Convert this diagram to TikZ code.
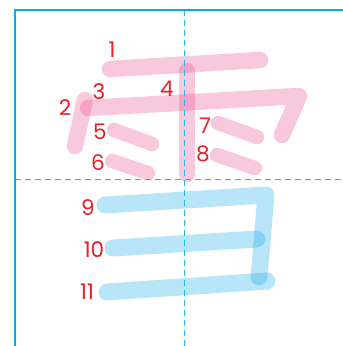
\documentclass[tikz,border=0pt]{standalone}
\usepackage{fontspec}
\setmainfont{Poppins}
\definecolor{frameblue}{RGB}{0,174,239}
\definecolor{dashblue}{RGB}{40,180,240}
\definecolor{pinkstroke}{RGB}{233,76,140}
\definecolor{bluestroke}{RGB}{0,160,230}
\definecolor{numred}{RGB}{232,30,40}
\begin{document}
\begin{tikzpicture}[x=1pt,y=-1pt,
  pinkst/.style={draw=pinkstroke,draw opacity=0.3,line width=16.5pt,line cap=round,line join=round},
  dotst/.style={draw=pinkstroke,draw opacity=0.3,line width=14.5pt,line cap=round},
  bluest/.style={draw=bluestroke,draw opacity=0.28,line width=17pt,line cap=round,line join=round},
  num/.style={text=numred,font=\fontsize{21.5}{21.5}\selectfont,inner sep=0pt,anchor=center},
  guide/.style={draw=dashblue,line width=1.1pt,dash pattern=on 6pt off 4pt},
  frame/.style={draw=frameblue,line width=2pt}]
\useasboundingbox (0,0) rectangle (343,346);
% strokes of the top part
\draw[pinkst] (110,69) -- (260,60);
\draw[pinkst] (85,100) -- (75,146);
\draw[pinkst] (88,108) -- (299,96) -- (282,135);
\draw[pinkst] (187,71) -- (187,174);
\draw[dotst] (114,130) -- (152,144);
\draw[dotst] (112,161) -- (148,173);
\draw[dotst] (218,123) -- (257,137);
\draw[dotst] (217,155) -- (255,168);
% strokes of the bottom part
\draw[bluest] (105,205) -- (266,195) -- (259,277);
\draw[bluest] (113,248) -- (257,239);
\draw[bluest] (107,292) -- (267,281);
% guide lines
\coordinate (vt) at (184.5,10);
\coordinate (vb) at (184.5,346);
\coordinate (hl) at (15,179.5);
\coordinate (hr) at (343,179.5);
\draw[guide] (vt) -- (vb);
\draw[guide] (hl) -- (hr);
% frame
\coordinate (ftr) at (343,9.5);
\coordinate (ftl) at (15,9.5);
\coordinate (fbl) at (15,346);
\draw[frame] (ftr) -- (ftl) -- (fbl);
% numbers
\node[num] (n1) at (112,50) {1};
\node[num] (n2) at (65,108) {2};
\node[num] (n3) at (99,92) {3};
\node[num] (n4) at (167,89) {4};
\node[num] (n5) at (100,132) {5};
\node[num] (n6) at (98,163) {6};
\node[num] (n7) at (205,126) {7};
\node[num] (n8) at (203,154) {8};
\node[num] (n9) at (88,208) {9};
\node[num] (n10) at (94,250) {10};
\node[num] (n11) at (87,292) {11};
\end{tikzpicture}
\end{document}
